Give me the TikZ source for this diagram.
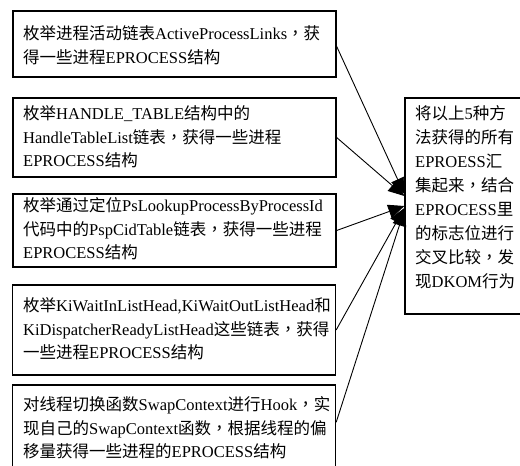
\documentclass[tikz,border=0pt]{standalone}
\usepackage{fontspec}
\setmainfont{Liberation Serif}
\newfontfamily\cjk{Noto Sans CJK SC}
\newfontfamily\cjktc{Noto Sans CJK TC}
\usetikzlibrary{arrows.meta,calc}
\XeTeXinterchartokenstate=1
\newXeTeXintercharclass\CJKcls
\newXeTeXintercharclass\CJKpun
\count255="3000
\loop \XeTeXcharclass\count255=\CJKcls \ifnum\count255<"9FFF \advance\count255 by 1 \repeat
\count255="FF00
\loop \XeTeXcharclass\count255=\CJKcls \ifnum\count255<"FFEF \advance\count255 by 1 \repeat
\XeTeXcharclass"FF0C=\CJKpun
\XeTeXinterchartoks 0 \CJKcls = {\cjk}
\XeTeXinterchartoks 4095 \CJKcls = {\cjk}
\XeTeXinterchartoks \CJKcls 0 = {\rmfamily}
\XeTeXinterchartoks 4095 0 = {\rmfamily}
\XeTeXinterchartoks 0 \CJKpun = {\cjktc}
\XeTeXinterchartoks \CJKcls \CJKpun = {\cjktc}
\XeTeXinterchartoks 4095 \CJKpun = {\cjktc}
\XeTeXinterchartoks \CJKpun \CJKcls = {\cjk}
\XeTeXinterchartoks \CJKpun 0 = {\rmfamily}
\tikzset{
  box/.style={draw=black, line width=1.3pt, minimum width=323pt, inner sep=0pt},
  txt/.style={anchor=west, align=left, inner sep=0pt, font=\fontsize{16.5}{23.5}\selectfont},
  link/.style={line width=0.9pt, -{Triangle[length=16pt,width=14pt]}}
}
\begin{document}
\begin{tikzpicture}[x=1pt,y=-1pt]
\useasboundingbox (0,0) rectangle (520,466);
\clip (0,0) rectangle (520,466);
\node[box, minimum height=66pt] (b1) at (174.5,44) {};
\node[box, minimum height=79pt] (b2) at (174.5,137.5) {};
\node[box, minimum height=73pt] (b3) at (174.5,230.5) {};
\node[box, minimum height=90pt] (b4) at (174,330) {};
\node[box, minimum height=95pt] (b5) at (174,432.5) {};
\node[box, minimum width=120pt, minimum height=216pt] (R) at (465,206) {};
\node[txt] (t1) at (23,45) {枚举进程活动链表ActiveProcessLinks，获\\得一些进程EPROCESS结构};
\node[txt] (t2) at (23,137) {枚举HANDLE\_TABLE结构中的\\HandleTableList链表，获得一些进程\\EPROCESS结构};
\node[txt] (t3) at (23,229) {枚举通过定位PsLookupProcessByProcessId\\代码中的PspCidTable链表，获得一些进程\\EPROCESS结构};
\node[txt] (t4) at (23,329) {枚举KiWaitInListHead,KiWaitOutListHead和\\KiDispatcherReadyListHead这些链表，获得\\一些进程EPROCESS结构};
\node[txt] (t5) at (23,428) {对线程切换函数SwapContext进行Hook，实\\现自己的SwapContext函数，根据线程的偏\\移量获得一些进程的EPROCESS结构};
\node[txt, font=\fontsize{16.5}{24}\selectfont] (tR) at (415,197.5) {将以上5种方\\法获得的所有\\EPROESS汇\\集起来，结合\\EPROCESS里\\的标志位进行\\交叉比较，发\\现DKOM行为};
\draw[link] ($(b1.north east)+(0,36)$) -- ($(R.west)+(0,-12)$);
\draw[link] (b2.east) -- ($(R.west)+(0,-10)$);
\draw[link] (b3.east) -- ($(R.west)+(0,0)$);
\draw[link] (b4.east) -- ($(R.west)+(0,2)$);
\draw[link] ($(b5.north east)+(0,38)$) -- ($(R.west)+(0,4)$);
\end{tikzpicture}
\end{document}
